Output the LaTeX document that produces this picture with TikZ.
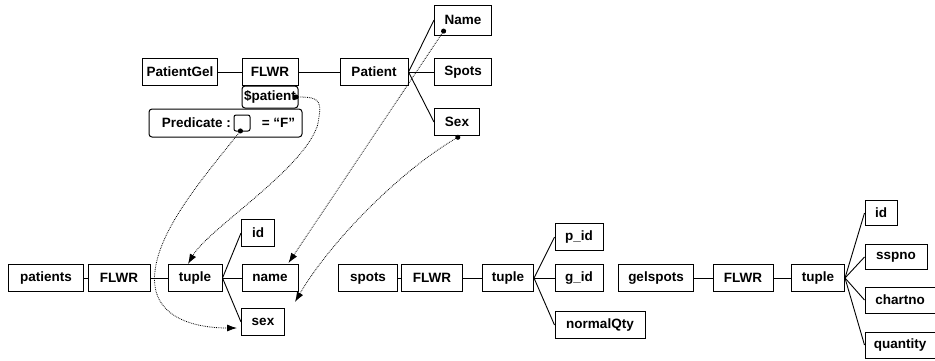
\documentclass[tikz,border=0pt]{standalone}
\usepackage{fontspec}
\setmainfont{Liberation Sans}
\usetikzlibrary{arrows.meta}
\begin{document}
\begin{tikzpicture}[x=1pt,y=-1pt,
  box/.style={draw, line width=1pt, inner sep=0pt, minimum height=27pt,
    font=\bfseries\fontsize{13.5}{15}\selectfont},
  rbox/.style={box, rounded corners=3pt},
  link/.style={line width=0.9pt},
  ref/.style={densely dotted, line width=0.8pt, {Circle[length=5pt]}-{Latex[length=10pt,width=7pt]}}
]
\useasboundingbox (0,0) rectangle (935,360);
% top tree
\node[box, minimum width=75pt] (pg) at (180,72) {PatientGel};
\node[box, minimum width=56pt] (f0) at (270,72) {FLWR};
\node[box, minimum width=68pt] (pat) at (374,72) {Patient};
\node[box, minimum width=57pt, minimum height=30pt] (Name) at (463,20) {Name};
\node[box, minimum width=57pt] (Spots) at (463,72) {Spots};
\node[box, minimum width=45pt] (Sex) at (457,122) {Sex};
\node[rbox, minimum width=56pt, minimum height=22pt] (sp) at (270,97) {\$patient};
\node[rbox, minimum width=153pt, minimum height=28pt] (pred) at (225.5,123) {\hspace{6pt}Predicate :\hspace{31pt}= “F”};
\node[draw, line width=1pt, rounded corners=2pt, minimum width=16pt, minimum height=16pt, inner sep=0pt] (slot) at (242,123) {};
\draw[link] (pg) -- (f0);
\draw[link] (f0) -- (pat);
\draw[link] (pat.east) -- (Name.west);
\draw[link] (pat.east) -- (Spots.west);
\draw[link] (pat.east) -- (Sex.west);
% bottom left
\node[box, minimum width=75pt] (pts) at (46,278) {patients};
\node[box, minimum width=62pt] (f1) at (119,278) {FLWR};
\node[box, minimum width=54pt] (t1) at (195,278) {tuple};
\node[box, minimum width=33pt] (id1) at (258,233) {id};
\node[box, minimum width=56pt] (nm1) at (270,278) {name};
\node[box, minimum width=43pt] (sx1) at (263,322) {sex};
\draw[link] (pts) -- (f1);
\draw[link] (f1) -- (t1);
\foreach \n in {id1,nm1,sx1} \draw[link] (t1.east) -- (\n.west);
% bottom middle
\node[box, minimum width=59pt] (spt) at (368,278) {spots};
\node[box, minimum width=61pt] (f2) at (432,278) {FLWR};
\node[box, minimum width=51pt] (t2) at (508,278) {tuple};
\node[box, minimum width=48pt] (pid) at (579,237) {p\_id};
\node[box, minimum width=48pt] (gid) at (579,278) {g\_id};
\node[box, minimum width=90pt] (nq) at (600,325) {normalQty};
\draw[link] (spt) -- (f2);
\draw[link] (f2) -- (t2);
\foreach \n in {pid,gid,nq} \draw[link] (t2.east) -- (\n.west);
% bottom right
\node[box, minimum width=75pt] (gs) at (656,278) {gelspots};
\node[box, minimum width=60pt] (f3) at (743,278) {FLWR};
\node[box, minimum width=53pt] (t3) at (818,278) {tuple};
\node[box, minimum width=32pt, minimum height=25pt] (id3) at (881,213) {id};
\node[box, minimum width=62pt, minimum height=25pt] (ss) at (896,257) {sspno};
\node[box, minimum width=70pt, minimum height=26pt] (ch) at (900,300) {chartno};
\node[box, minimum width=70pt, minimum height=26pt] (qu) at (900,345) {quantity};
\draw[link] (gs) -- (f3);
\draw[link] (f3) -- (t3);
\foreach \n in {id3,ss,ch,qu} \draw[link] (t3.east) -- (\n.west);
% dotted references
\draw[ref] ([xshift=-5pt]sp.east) .. controls +(27,0) and +(5,-25) .. ([xshift=19pt,yshift=-17pt]sp.south east)
  .. controls +(-15,45) and +(20,-35) .. ([xshift=-7pt]t1.north);
\draw[ref] ([yshift=-6pt]slot.center) .. controls +(-40,50) and +(0,-45) .. ([xshift=-13pt,yshift=-15pt]t1.north west)
  .. controls +(0,40) and +(-40,0) .. ([xshift=-4pt,yshift=-6pt]sx1.west);
\draw[ref] ([xshift=-18pt,yshift=-9pt]Name.center) -- ([xshift=-10pt,yshift=1pt]nm1.north east);
\draw[ref] ([xshift=3pt]Sex.south) .. controls +(-60,35) and +(35,-60) .. ([xshift=10pt,yshift=6pt]sx1.north east);
\end{tikzpicture}
\end{document}
